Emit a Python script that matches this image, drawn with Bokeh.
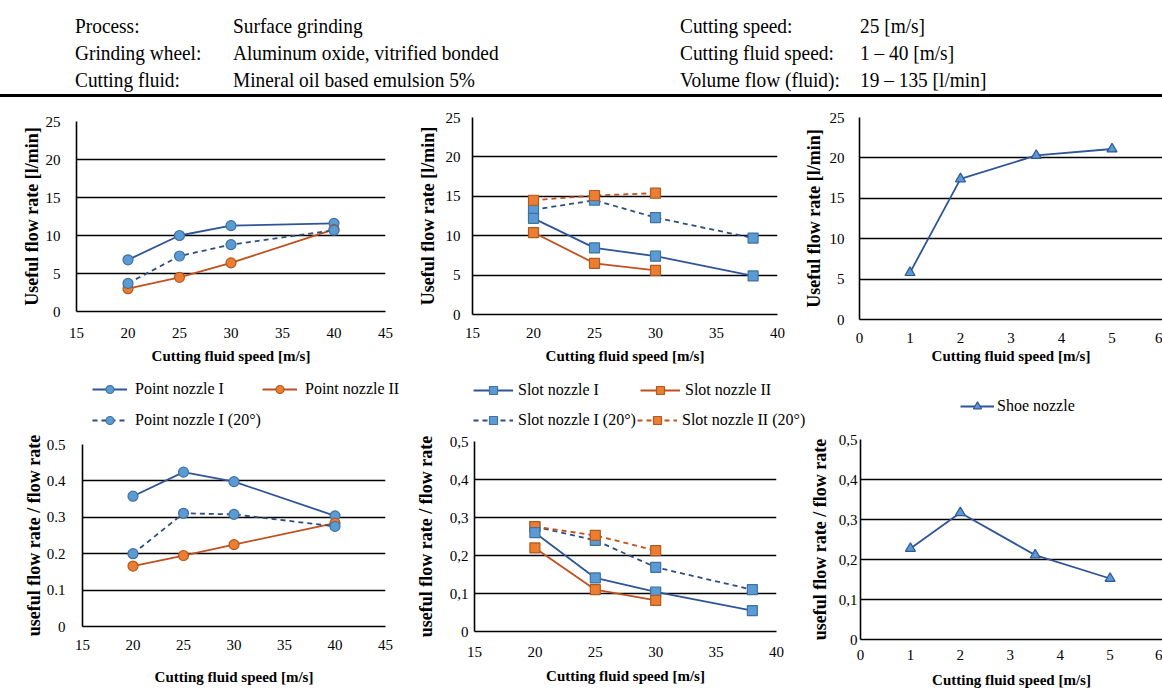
from bokeh.plotting import figure
from bokeh.models import Div, FixedTicker, Legend, LegendItem, Range1d, CustomJSTickFormatter
from bokeh.layouts import column, row
from bokeh.embed import file_html
from bokeh.resources import INLINE

# ---------------- header texts ----------------
header_left_keys = ["Process:", "Grinding wheel:", "Cutting fluid:"]
header_left_vals = ["Surface grinding", "Aluminum oxide, vitrified bonded", "Mineral oil based emulsion 5%"]
header_right_keys = ["Cutting speed:", "Cutting fluid speed:", "Volume flow (fluid):"]
header_right_vals = ["25 [m/s]", "1 \u2013 40 [m/s]", "19 \u2013 135 [l/min]"]

# ---------------- axis texts / ticks ----------------
x_title = "Cutting fluid speed [m/s]"
flow_title = "Useful flow rate [l/min]"
ratio_title = "useful flow rate / flow rate"
flow_ticks = [0, 5, 10, 15, 20, 25]
ratio_ticks = [0, 0.1, 0.2, 0.3, 0.4, 0.5]
point_x_ticks = [15, 20, 25, 30, 35, 40, 45]
slot_x_ticks = [15, 20, 25, 30, 35, 40]
shoe_x_ticks = [0, 1, 2, 3, 4, 5, 6]

# ---------------- data ----------------
point_speed = [20, 25, 30, 40]
point1_flow = [6.8, 10.0, 11.3, 11.6]
point2_flow = [3.0, 4.5, 6.4, 10.8]
point1_20_flow = [3.7, 7.3, 8.8, 10.7]
point1_ratio = [0.358, 0.424, 0.398, 0.304]
point2_ratio = [0.166, 0.195, 0.225, 0.284]
point1_20_ratio = [0.200, 0.311, 0.308, 0.275]

slot1_speed = [20, 25, 30, 38]
slot2_speed = [20, 25, 30]
slot1_flow = [12.2, 8.45, 7.4, 4.9]
slot2_flow = [10.4, 6.5, 5.6]
slot1_20_flow = [13.3, 14.5, 12.3, 9.7]
slot2_20_flow = [14.5, 15.1, 15.4]
slot1_ratio = [0.26, 0.141, 0.104, 0.055]
slot2_ratio = [0.22, 0.11, 0.082]
slot1_20_ratio = [0.276, 0.24, 0.169, 0.11]
slot2_20_ratio = [0.276, 0.253, 0.213]

shoe_speed = [1, 2, 3.5, 5]
shoe_flow = [5.8, 17.4, 20.3, 21.1]
shoe_ratio = [0.2275, 0.317, 0.211, 0.1525]

# ---------------- styles ----------------
SERIF = "Liberation Serif"
BLUE_FILL = "#5B9BD5"
BLUE_EDGE = "#41719C"
BLUE_LINE = "#2F5597"
BLUE_DASH = "#2F4D7E"
ORANGE_FILL = "#ED7D31"
ORANGE_EDGE = "#AE5A21"
ORANGE_LINE = "#C0501F"
DASH = "5 4"


def make_fig(width, height, xr, yr, xticks, yticks, ytitle, bl, br, bt, bb,
             y_std, y_lab_std, x_std, x_lab_std, fmt=None):
    p = figure(width=width, height=height, x_range=Range1d(*xr), y_range=Range1d(*yr),
               output_backend="svg", toolbar_location=None, frame_align=False,
               min_border_left=bl, min_border_right=br, min_border_top=bt, min_border_bottom=bb,
               background_fill_color="white", border_fill_color="white")
    p.outline_line_color = None
    p.xgrid.visible = False
    p.ygrid.ticker = FixedTicker(ticks=yticks)
    p.ygrid.grid_line_color = "black"
    p.ygrid.grid_line_width = 1.6
    p.xaxis.ticker = FixedTicker(ticks=xticks)
    p.yaxis.ticker = FixedTicker(ticks=yticks)
    for ax in (p.xaxis[0], p.yaxis[0]):
        ax.axis_line_color = "black"
        ax.axis_line_width = 1.6
        ax.major_tick_line_color = None
        ax.minor_tick_line_color = None
        ax.major_tick_out = 0
        ax.major_tick_in = 0
        ax.major_label_text_font = SERIF
        ax.major_label_text_font_size = "15px"
        ax.major_label_text_color = "black"
        ax.axis_label_text_font = SERIF
        ax.axis_label_text_font_style = "bold"
        ax.axis_label_text_color = "black"
    p.xaxis.axis_label = x_title
    p.xaxis.axis_label_text_font_size = "15px"
    p.yaxis.axis_label = ytitle
    p.yaxis.axis_label_text_font_size = "18px"
    p.yaxis.major_label_standoff = y_std
    p.yaxis.axis_label_standoff = y_lab_std
    p.xaxis.major_label_standoff = x_std
    p.xaxis.axis_label_standoff = x_lab_std
    if fmt is not None:
        p.yaxis.formatter = fmt
    return p


def series(p, x, y, marker, size, fill, edge, line_color, dash="solid"):
    lr = p.line(x, y, line_color=line_color, line_width=1.8, line_dash=dash)
    sr = p.scatter(x, y, marker=marker, size=size, fill_color=fill, line_color=edge, line_width=1.2)
    return [lr, sr]


def legend_fig(width, height):
    # a strip that only carries legends; its proxy series lie outside its ranges
    p = figure(width=width, height=height, x_range=Range1d(-2, -1), y_range=Range1d(-2, -1),
               output_backend="svg", toolbar_location=None, frame_align=False,
               x_axis_type=None, y_axis_type=None,
               min_border_left=0, min_border_right=0, min_border_top=0, min_border_bottom=0,
               background_fill_color="white", border_fill_color="white")
    p.outline_line_color = None
    p.grid.visible = False
    return p


def add_legend(p, label, renderers, vx, vy, glyph_w, standoff):
    lg = Legend(items=[LegendItem(label=label, renderers=renderers)], location=(vx, vy),
                orientation="horizontal", glyph_width=glyph_w, glyph_height=20, label_height=20,
                label_standoff=standoff, padding=0, margin=0, spacing=0,
                border_line_alpha=0, background_fill_alpha=0,
                label_text_font=SERIF, label_text_font_size="16px", label_text_color="black")
    p.add_layout(lg)


dot_fmt = CustomJSTickFormatter(code="return tick == 0 ? '0' : tick.toFixed(1);")
comma_fmt = CustomJSTickFormatter(code="return tick == 0 ? '0' : tick.toFixed(1).replace('.', ',');")

# ---------------- header ----------------
def span(txt, left, top):
    return ('<div style="position:absolute;left:%dpx;top:%.1fpx;font-family:\'Liberation Serif\',serif;'
            'font-size:22px;line-height:22px;white-space:nowrap;transform:scaleX(0.88);'
            'transform-origin:0 0;color:#000;">%s</div>' % (left, top, txt))

rows_top = [14.6, 41.6, 68.6]
html = '<div style="position:relative;width:1162px;height:100px;">'
for i in range(3):
    html += span(header_left_keys[i], 75, rows_top[i])
    html += span(header_left_vals[i], 233, rows_top[i])
    html += span(header_right_keys[i], 680, rows_top[i])
    html += span(header_right_vals[i], 860, rows_top[i])
html += '<div style="position:absolute;left:0px;top:94px;width:1162px;height:3px;background:#000;"></div>'
html += '</div>'
header = Div(text=html, width=1162, height=100, margin=(0, 0, 0, 0))

# ---------------- top row (y 100..370) ----------------
f1 = make_fig(414, 270, (15, 45), (0, 25), point_x_ticks, flow_ticks, flow_title,
              76, 29, 21, 59, 16, 1, 16, 7)
series(f1, point_speed, point1_flow, "circle", 10, BLUE_FILL, BLUE_EDGE, BLUE_LINE)
series(f1, point_speed, point2_flow, "circle", 10, ORANGE_FILL, ORANGE_EDGE, ORANGE_LINE)
series(f1, point_speed, point1_20_flow, "circle", 10, BLUE_FILL, BLUE_EDGE, BLUE_DASH, DASH)

f2 = make_fig(386, 270, (15, 40), (0, 25), slot_x_ticks, flow_ticks, flow_title,
              56, 23, 17, 56, 12, 5, 13, 7)
series(f2, slot1_speed, slot1_20_flow, "square", 10, BLUE_FILL, BLUE_EDGE, BLUE_DASH, DASH)
series(f2, slot2_speed, slot2_20_flow, "square", 10, ORANGE_FILL, ORANGE_EDGE, ORANGE_LINE, DASH)
series(f2, slot1_speed, slot1_flow, "square", 10, BLUE_FILL, BLUE_EDGE, BLUE_LINE)
series(f2, slot2_speed, slot2_flow, "square", 10, ORANGE_FILL, ORANGE_EDGE, ORANGE_LINE)

f3 = make_fig(362, 270, (0, 6), (0, 25), shoe_x_ticks, flow_ticks, flow_title,
              58, 0, 17, 51, 15, 3, 13, 2)
series(f3, shoe_speed, shoe_flow, "triangle", 10, BLUE_FILL, BLUE_LINE, BLUE_LINE)

# ---------------- legend strip (y 370..430) ----------------
l4 = legend_fig(412, 60)
add_legend(l4, "Point nozzle I",
           series(l4, point_speed, point1_ratio, "circle", 10, BLUE_FILL, BLUE_EDGE, BLUE_LINE), 92, 31, 35, 8)
add_legend(l4, "Point nozzle II",
           series(l4, point_speed, point2_ratio, "circle", 10, ORANGE_FILL, ORANGE_EDGE, ORANGE_LINE), 262, 31, 35, 8)
add_legend(l4, "Point nozzle I (20\u00b0)",
           series(l4, point_speed, point1_20_ratio, "circle", 10, BLUE_FILL, BLUE_EDGE, BLUE_DASH, DASH), 92, 0, 35, 8)

l5 = legend_fig(394, 60)
add_legend(l5, "Slot nozzle I",
           series(l5, slot1_speed, slot1_ratio, "square", 10, BLUE_FILL, BLUE_EDGE, BLUE_LINE), 61, 30, 40, 5)
add_legend(l5, "Slot nozzle II",
           series(l5, slot2_speed, slot2_ratio, "square", 10, ORANGE_FILL, ORANGE_EDGE, ORANGE_LINE), 228, 30, 40, 5)
add_legend(l5, "Slot nozzle I (20\u00b0)",
           series(l5, slot1_speed, slot1_20_ratio, "square", 10, BLUE_FILL, BLUE_EDGE, BLUE_DASH, DASH), 61, 0, 40, 5)
add_legend(l5, "Slot nozzle II (20\u00b0)",
           series(l5, slot2_speed, slot2_20_ratio, "square", 10, ORANGE_FILL, ORANGE_EDGE, ORANGE_LINE, DASH), 225, 0, 40, 5)

l6 = legend_fig(356, 60)
add_legend(l6, "Shoe nozzle",
           series(l6, shoe_speed, shoe_ratio, "triangle", 10, BLUE_FILL, BLUE_LINE, BLUE_LINE), 154, 14, 34, 3)

# ---------------- bottom row (y 430..693) ----------------
f4 = make_fig(412, 263, (15, 45), (0, 0.5), point_x_ticks, ratio_ticks, ratio_title,
              82, 27, 14, 67, 17, 0, 13, 16, fmt=dot_fmt)
series(f4, point_speed, point1_ratio, "circle", 10, BLUE_FILL, BLUE_EDGE, BLUE_LINE)
series(f4, point_speed, point2_ratio, "circle", 10, ORANGE_FILL, ORANGE_EDGE, ORANGE_LINE)
series(f4, point_speed, point1_20_ratio, "circle", 10, BLUE_FILL, BLUE_EDGE, BLUE_DASH, DASH)

f5 = make_fig(394, 263, (15, 40), (0, 0.5), slot_x_ticks, ratio_ticks, ratio_title,
              62, 30, 11, 62, 6, 11, 15, 8, fmt=comma_fmt)
series(f5, slot1_speed, slot1_20_ratio, "square", 10, BLUE_FILL, BLUE_EDGE, BLUE_DASH, DASH)
series(f5, slot2_speed, slot2_20_ratio, "square", 10, ORANGE_FILL, ORANGE_EDGE, ORANGE_LINE, DASH)
series(f5, slot1_speed, slot1_ratio, "square", 10, BLUE_FILL, BLUE_EDGE, BLUE_LINE)
series(f5, slot2_speed, slot2_ratio, "square", 10, ORANGE_FILL, ORANGE_EDGE, ORANGE_LINE)

f6 = make_fig(356, 263, (0, 6.05), (0, 0.5), shoe_x_ticks, ratio_ticks, ratio_title,
              50, 0, 9, 54, 3, 6, 10, 9, fmt=comma_fmt)
series(f6, shoe_speed, shoe_ratio, "triangle", 10, BLUE_FILL, BLUE_LINE, BLUE_LINE)

layout = column(header, row(f1, f2, f3), row(l4, l5, l6), row(f4, f5, f6))

with open("out.html", "w", encoding="utf-8") as fh:
    fh.write(file_html(layout, INLINE))
